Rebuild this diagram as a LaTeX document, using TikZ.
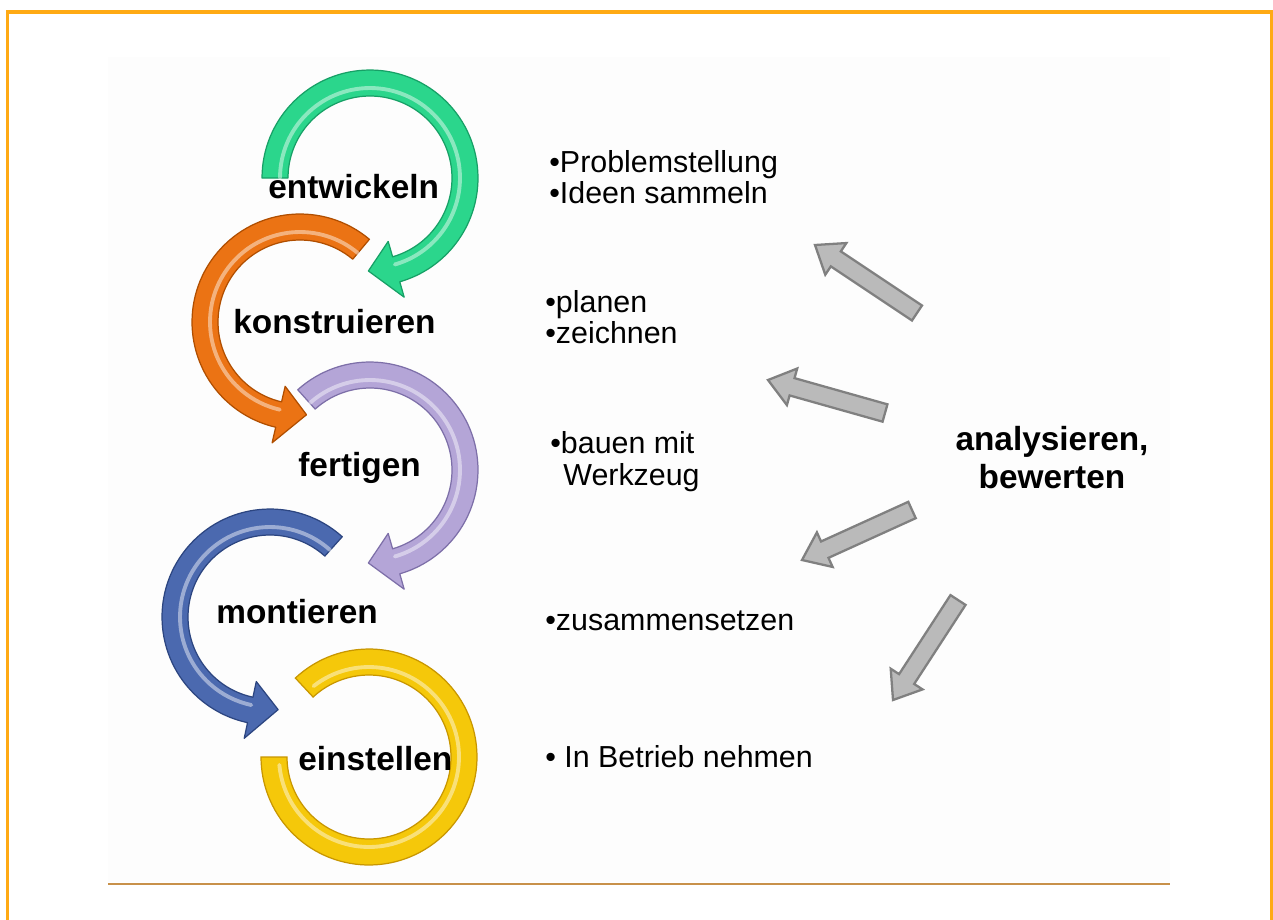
\documentclass[tikz,border=0pt]{standalone}
\usepackage{fontspec}
\setmainfont{Liberation Sans}
\usetikzlibrary{calc}
\definecolor{frameorange}{HTML}{FFAA14}
\definecolor{rulebrown}{HTML}{C8914A}
\definecolor{cgreen}{HTML}{2BD68C}\definecolor{cgreenD}{HTML}{17A066}
\definecolor{corange}{HTML}{EB7314}\definecolor{corangeD}{HTML}{B04E00}
\definecolor{clilac}{HTML}{B4A5D7}\definecolor{clilacD}{HTML}{7D6FA8}
\definecolor{cblue}{HTML}{4B69AF}\definecolor{cblueD}{HTML}{2C4580}
\definecolor{cyellow}{HTML}{F5C80A}\definecolor{cyellowD}{HTML}{C89600}
\definecolor{gfill}{HTML}{BABABA}\definecolor{gline}{HTML}{808080}
% #1 centre, #2 start angle, #3 body end angle, #4 tip angle, #5 fill, #6 edge
\newcommand{\ringarrow}[6]{%
  \filldraw[fill=#5, draw=#6, line width=0.7pt, line join=round, shift={#1}]
    (#2:2.16cm) arc[start angle=#2, end angle=#3, radius=2.16cm]
    -- (#3:2.48cm) -- (#4:1.86cm) -- (#3:1.32cm) -- (#3:1.64cm)
    arc[start angle=#3, end angle=#2, radius=1.64cm] -- cycle;
  \draw[white, opacity=0.45, line width=2.2pt, line cap=round, shift={#1}]
    (#2:1.8cm) arc[start angle=#2, end angle=#3, radius=1.8cm];
}
% #1 tail coordinate, #2 tip coordinate
\newcommand{\grayarrow}[2]{%
  \filldraw[fill=gfill, draw=gline, line width=1.3pt, line join=miter]
    ($(#1)!0.18cm!90:(#2)$) -- ($($(#2)!0.5cm!(#1)$)!0.18cm!-90:(#1)$)
    -- ($($(#2)!0.5cm!(#1)$)!0.38cm!-90:(#1)$) -- (#2)
    -- ($($(#2)!0.5cm!(#1)$)!0.38cm!90:(#1)$)
    -- ($($(#2)!0.5cm!(#1)$)!0.18cm!90:(#1)$)
    -- ($(#1)!0.18cm!-90:(#2)$) -- cycle;
}
\tikzset{
  stage/.style={font=\bfseries\fontsize{19}{22}\selectfont, inner sep=0pt, anchor=base west},
  item/.style={font=\fontsize{17.3}{20}\selectfont, inner sep=0pt, anchor=base west},
  review/.style={font=\bfseries\fontsize{19}{22}\selectfont, inner sep=0pt, anchor=base}
}
\begin{document}
\begin{tikzpicture}[x=0.02cm, y=0.02cm]
\useasboundingbox (0,0) rectangle (1273,-919);
\fill[white] (0,0) rectangle (1273,-919);
\fill[black!0.8] (108,-57) rectangle (1170,-882);
% frame
\draw[frameorange, line width=1.8pt] (7.5,-925) -- (7.5,-12) -- (1271.5,-12) -- (1271.5,-925);
\draw[rulebrown, line width=1pt] (108,-884) -- (1170,-884);

% cycle arrows (bottom first)
\filldraw[fill=cyellow, draw=cyellowD, line width=0.7pt, shift={(369,-757)}]
  (133:2.16cm) arc[start angle=133, end angle=-180, radius=2.16cm]
  -- (-180:1.64cm) arc[start angle=-180, end angle=133, radius=1.64cm] -- cycle;
\draw[white, opacity=0.45, line width=2.2pt, line cap=round, shift={(369,-757)}]
  (128:1.8cm) arc[start angle=128, end angle=-175, radius=1.8cm];
\ringarrow{(270,-617)}{48}{258}{275}{cblue}{cblueD}
\ringarrow{(370,-470)}{132}{-74}{-91}{clilac}{clilacD}
\ringarrow{(300,-322)}{50}{257}{274}{corange}{corangeD}
\ringarrow{(370,-178)}{180}{-74}{-91}{cgreen}{cgreenD}

% stage labels
\node[stage] (ent) at (268,-198) {entwickeln};
\node[stage] (kon) at (233,-333) {konstruieren};
\node[stage] (fer) at (298,-476) {fertigen};
\node[stage] (mon) at (216,-623) {montieren};
\node[stage] (ein) at (298,-770) {einstellen};

% items
\node[item] (i1a) at (549,-172) {•Problemstellung};
\node[item] (i1b) at (549,-203) {•Ideen sammeln};
\node[item] (i2a) at (545,-312) {•planen};
\node[item] (i2b) at (545,-343) {•zeichnen};
\node[item] (i3a) at (550,-453) {•bauen mit};
\node[item] (i3b) at (563,-485) {Werkzeug};
\node[item] (i4) at (545,-630) {•zusammensetzen};
\node[item] (i5) at (545,-767) {• In Betrieb nehmen};

% review
\node[review] (an1) at (1052,-450) {analysieren,};
\node[review] (an2) at (1052,-488) {bewerten};

% gray arrows
\coordinate (t1) at (917,-313); \coordinate (p1) at (815,-245);
\coordinate (t2) at (885,-413); \coordinate (p2) at (768,-380);
\coordinate (t3) at (912,-510); \coordinate (p3) at (802,-560);
\coordinate (t4) at (958,-600); \coordinate (p4) at (893,-700);
\grayarrow{t1}{p1}
\grayarrow{t2}{p2}
\grayarrow{t3}{p3}
\grayarrow{t4}{p4}
\end{tikzpicture}
\end{document}
